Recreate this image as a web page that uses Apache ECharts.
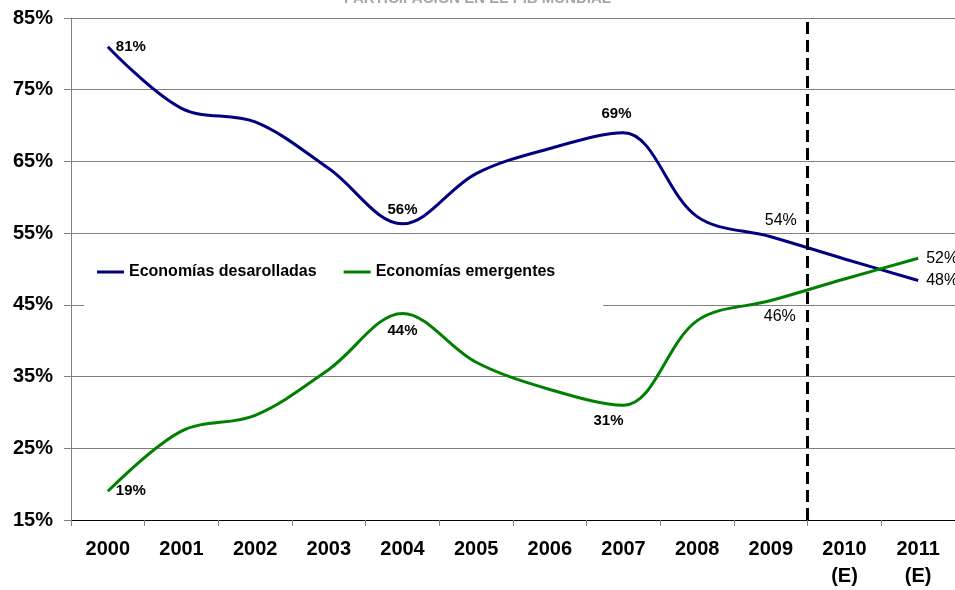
<!DOCTYPE html>
<html>
<head>
<meta charset="utf-8">
<script src="https://cdn.jsdelivr.net/npm/echarts@6/dist/echarts.min.js"></script>
<style>html,body{margin:0;padding:0;background:#fff}#c{width:955px;height:590px}</style>
</head>
<body>
<div id="c"></div>
<script>
const categories = ['2000','2001','2002','2003','2004','2005','2006','2007','2008','2009','2010\n(E)','2011\n(E)'];
const desarrolladas = [81, 72.4, 70.5, 64, 56.3, 63.3, 66.8, 69, 57.3, 54.5, 51.4, 48.4];
const emergentes   = [19, 27.4, 29.6, 36, 43.8, 37, 33.2, 31, 42.8, 45.6, 48.6, 51.5];
const labelDes = {0:'81%', 4:'56%', 7:'69%', 9:'54%', 11:'48%'};
const labelEme = {0:'19%', 4:'44%', 7:'31%', 9:'46%', 11:'52%'};
const yTicks = [15, 25, 35, 45, 55, 65, 75, 85];
const dividerPos = 10; // boundary between 2009 and 2010

const FF = 'Arial, "Liberation Sans", sans-serif';
const boldLbl = {show:true, color:'#000', fontFamily:FF, fontSize:15, fontWeight:'bold'};
const plainLbl = {show:true, color:'#000', fontFamily:FF, fontSize:16, fontWeight:'normal'};

function labelCfg(idx, isTop) {
  if (idx === 0) return Object.assign({}, boldLbl, {position:'right', distance:8});
  if (idx === 11) return Object.assign({}, plainLbl, {position:'right', distance:8});
  if (idx === 4) return Object.assign({}, boldLbl, isTop ? {position:'top', distance:6} : {position:'bottom', distance:10});
  if (idx === 7) return Object.assign({}, boldLbl, isTop ? {position:'top', distance:11, offset:[-7,0]} : {position:'bottom', distance:8, offset:[-15,0]});
  if (idx === 9) return Object.assign({}, plainLbl, isTop ? {position:'top', distance:8, offset:[10,0]} : {position:'bottom', distance:8, offset:[9,0]});
  return {show:false};
}
function build(vals, labels, isTop) {
  return vals.map((v, i) => ({
    value: v,
    label: labels[i] ? Object.assign(labelCfg(i, isTop), {formatter: labels[i]}) : {show:false}
  }));
}

const chart = echarts.init(document.getElementById('c'), null, {renderer:'canvas'});
chart.setOption({
  animation: false,
  backgroundColor: '#fff',
  title: {
    text: 'PARTICIPACIÓN EN EL PIB MUNDIAL',
    left: 'center', top: -14,
    textStyle: {fontFamily: FF, fontSize: 15, fontWeight: 'bold', color: '#a6a6a6'}
  },
  grid: {left: 71, right: 0, top: 18, bottom: 70, containLabel: false},
  legend: {
    left: 84, top: 238,
    padding: [26, 48, 32, 13],
    backgroundColor: '#fff',
    itemWidth: 27, itemHeight: 3, itemGap: 27,
    icon: 'rect',
    textStyle: {fontFamily: FF, fontSize: 16, fontWeight: 'bold', color: '#000'},
    data: ['Economías desarolladas', 'Economías emergentes'],
    z: 10
  },
  xAxis: [{
    type: 'category',
    data: categories,
    boundaryGap: true,
    axisLine: {show: true, lineStyle: {color: '#000', width: 1}},
    axisTick: {show: true, length: 6, alignWithLabel: false, lineStyle: {color: '#808080'}},
    axisLabel: {fontFamily: FF, fontSize: 20, fontWeight: 'bold', color: '#000', margin: 16, lineHeight: 27, interval: 0},
    splitLine: {show: false}
  }, {
    type: 'value', min: 0, max: categories.length, show: false
  }],
  yAxis: {
    type: 'value', min: yTicks[0], max: yTicks[yTicks.length-1], interval: 10,
    axisLine: {show: true, lineStyle: {color: '#808080', width: 1}},
    axisTick: {show: true, length: 7, lineStyle: {color: '#808080'}},
    axisLabel: {formatter: '{value}%', fontFamily: FF, fontSize: 20, fontWeight: 'bold', color: '#000', margin: 18},
    splitLine: {show: true, lineStyle: {color: '#808080', width: 1}}
  },
  series: [{
    name: 'Economías desarolladas',
    type: 'line',
    data: build(desarrolladas, labelDes, true),
    smooth: 0.35,
    showSymbol: true,
    symbol: 'circle',
    symbolSize: 0,
    lineStyle: {color: '#000080', width: 3},
    itemStyle: {color: '#000080'},
    z: 3
  }, {
    name: 'Economías emergentes',
    type: 'line',
    data: build(emergentes, labelEme, false),
    smooth: 0.35,
    showSymbol: true,
    symbol: 'circle',
    symbolSize: 0,
    lineStyle: {color: '#008000', width: 3},
    itemStyle: {color: '#008000'},
    z: 3
  }, {
    name: 'divider',
    type: 'line',
    xAxisIndex: 1,
    data: [],
    markLine: {
      silent: true,
      symbol: ['none', 'none'],
      label: {show: false},
      lineStyle: {color: '#000', width: 3, type: [12, 6]},
      data: [{xAxis: dividerPos}]
    },
    z: 2
  }]
});
</script>
</body>
</html>
